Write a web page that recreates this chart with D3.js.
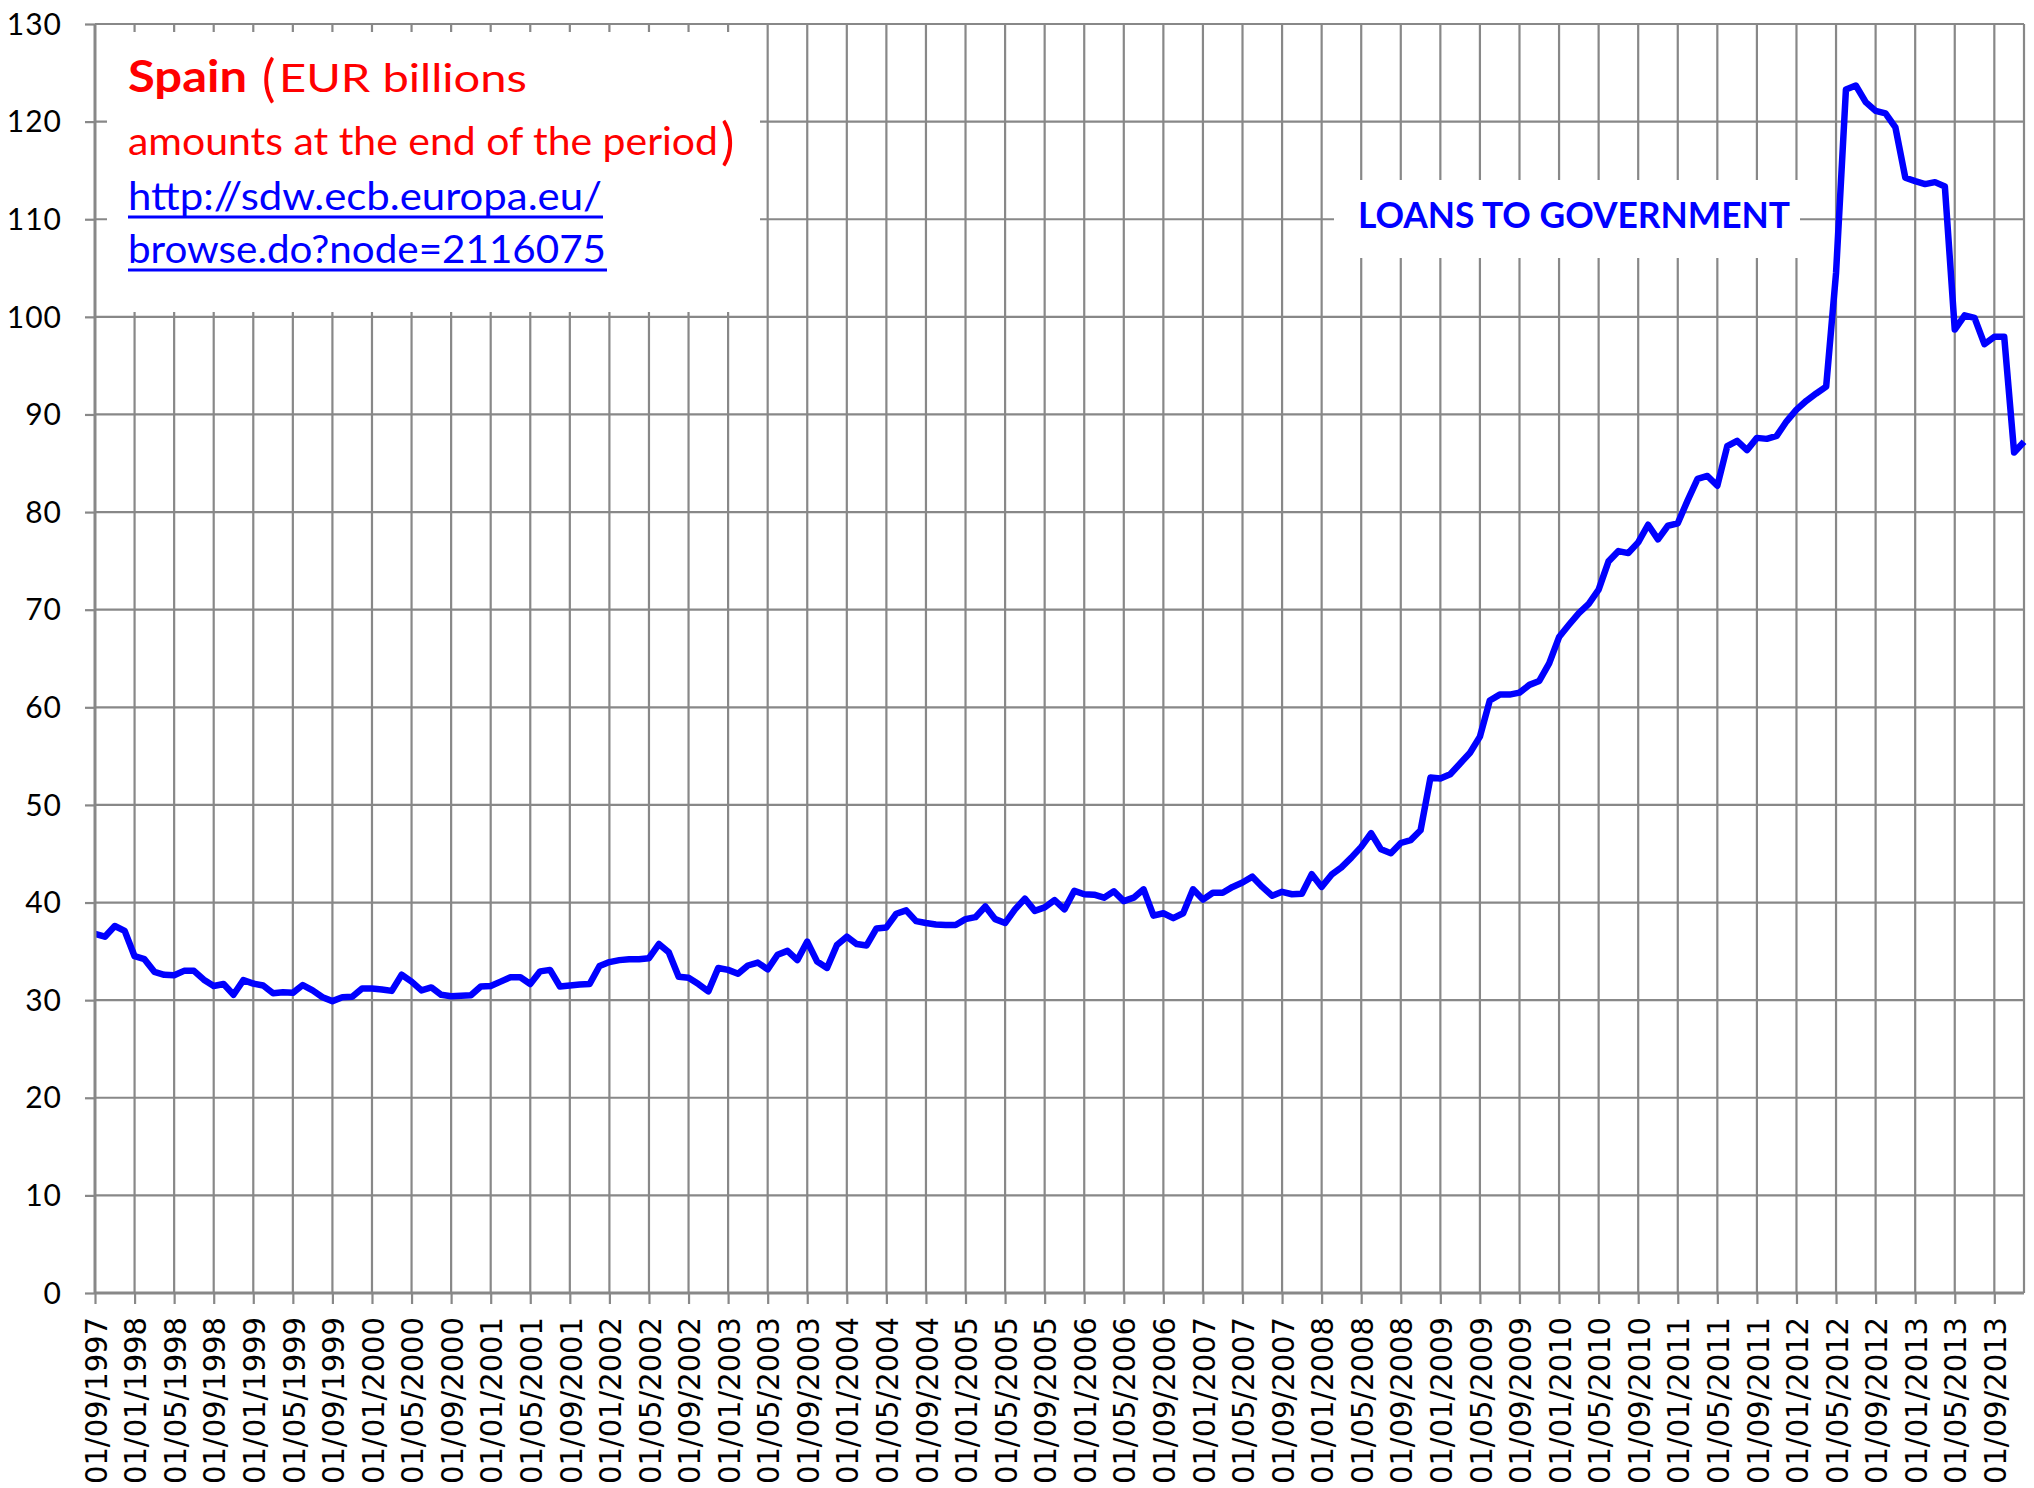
<!DOCTYPE html>
<html>
<head>
<meta charset="utf-8">
<script src="https://cdn.jsdelivr.net/npm/d3@7"></script>
<style>
  html, body { margin: 0; padding: 0; background: #ffffff; }
  svg { display: block; }
</style>
</head>
<body>
<svg id="chart" width="2034" height="1488"></svg>
<script>
// ---------------- data ----------------
// Loans to government, Spain, EUR billions, monthly, Sep 1997 .. Dec 2013
const loansToGovernment = [
  36.8, 36.5, 37.6, 37.1, 34.5, 34.2, 32.9, 32.6, 32.55, 33.0,
  33.0, 32.1, 31.45, 31.65, 30.55, 32.05, 31.7, 31.5, 30.7, 30.8,
  30.75, 31.55, 31.0, 30.3, 29.9, 30.3, 30.35, 31.2, 31.2, 31.1,
  30.95, 32.6, 31.9, 31.0, 31.3, 30.55, 30.4, 30.45, 30.5, 31.4,
  31.45, 31.9, 32.35, 32.35, 31.65, 32.95, 33.1, 31.4, 31.5, 31.6,
  31.65, 33.5, 33.9, 34.1, 34.2, 34.2, 34.3, 35.75, 34.9, 32.4,
  32.3, 31.65, 30.9, 33.3, 33.1, 32.7, 33.55, 33.85, 33.15, 34.65,
  35.05, 34.1, 36.0, 33.95, 33.3, 35.65, 36.5, 35.75, 35.6, 37.35,
  37.45, 38.85, 39.2, 38.1, 37.9, 37.75, 37.7, 37.7, 38.3, 38.5,
  39.6, 38.3, 37.9, 39.3, 40.4, 39.15, 39.5, 40.25, 39.3, 41.2,
  40.85, 40.8, 40.5, 41.15, 40.15, 40.5, 41.35, 38.65, 38.9, 38.4,
  38.9, 41.35, 40.3, 41.0, 41.0, 41.6, 42.05, 42.65, 41.6, 40.7,
  41.1, 40.85, 40.9, 42.9, 41.6, 42.85, 43.6, 44.6, 45.7, 47.1,
  45.45, 45.05, 46.1, 46.4, 47.4, 52.8, 52.7, 53.15, 54.25, 55.35,
  57.0, 60.7, 61.3, 61.3, 61.5, 62.3, 62.7, 64.5, 67.2, 68.45,
  69.65, 70.6, 72.05, 74.95, 76.0, 75.8, 76.9, 78.7, 77.2, 78.6,
  78.85, 81.2, 83.4, 83.7, 82.7, 86.75, 87.3, 86.35, 87.6, 87.5,
  87.8, 89.3, 90.5, 91.4, 92.15, 92.85, 104.5, 123.3, 123.7, 122.0,
  121.1, 120.85, 119.4, 114.25, 113.9, 113.6, 113.8, 113.35, 98.7, 100.15,
  99.9, 97.2, 97.95, 97.95, 86.1, 87.2
];

// monthly categories (first day of each month), Sep 1997 .. Dec 2013
const categories = d3.timeMonth
  .range(new Date(1997, 8, 1), new Date(2014, 0, 1))
  .map(d3.timeFormat("%Y-%m"));

// x tick labels (every four months)
const xTickLabels = [
  "01/09/1997", "01/01/1998", "01/05/1998", "01/09/1998",
  "01/01/1999", "01/05/1999", "01/09/1999",
  "01/01/2000", "01/05/2000", "01/09/2000",
  "01/01/2001", "01/05/2001", "01/09/2001",
  "01/01/2002", "01/05/2002", "01/09/2002",
  "01/01/2003", "01/05/2003", "01/09/2003",
  "01/01/2004", "01/05/2004", "01/09/2004",
  "01/01/2005", "01/05/2005", "01/09/2005",
  "01/01/2006", "01/05/2006", "01/09/2006",
  "01/01/2007", "01/05/2007", "01/09/2007",
  "01/01/2008", "01/05/2008", "01/09/2008",
  "01/01/2009", "01/05/2009", "01/09/2009",
  "01/01/2010", "01/05/2010", "01/09/2010",
  "01/01/2011", "01/05/2011", "01/09/2011",
  "01/01/2012", "01/05/2012", "01/09/2012",
  "01/01/2013", "01/05/2013", "01/09/2013"
];

// y tick values
const yTickValues = [0, 10, 20, 30, 40, 50, 60, 70, 80, 90, 100, 110, 120, 130];

const titleCountry = "Spain";
const titleUnit = "(EUR billions";
const titleLine2 = "amounts at the end of the period";
const linkLine1 = "http://sdw.ecb.europa.eu/";
const linkLine2 = "browse.do?node=2116075";
const seriesLabel = "LOANS TO GOVERNMENT";

// ---------------- layout ----------------
const plotLeft = 95, plotRight = 2024, plotTop = 24, plotBottom = 1293;
const gridColor = "#888888";
const lineColor = "#0000FF";

const svg = d3.select("#chart");
svg.append("rect").attr("width", 2034).attr("height", 1488).attr("fill", "#fff");

const x = d3.scalePoint().domain(categories).range([plotLeft, plotRight]).padding(0);
const y = d3.scaleLinear().domain([0, 130]).range([plotBottom, plotTop]);

const labelToCat = s => s.slice(6, 10) + "-" + s.slice(3, 5);
const tickCats = xTickLabels.map(labelToCat);
const catToLabel = new Map(xTickLabels.map(s => [labelToCat(s), s]));

// ---------------- gridlines ----------------
const grid = svg.append("g").attr("class", "grid");
grid.selectAll("line.h")
  .data(yTickValues.filter(v => v > 0))
  .join("line")
  .attr("class", "h")
  .attr("x1", plotLeft).attr("x2", plotRight)
  .attr("y1", d => y(d)).attr("y2", d => y(d))
  .attr("stroke", gridColor).attr("stroke-width", 2.2);

grid.selectAll("line.v")
  .data(tickCats.slice(1).concat([categories[categories.length - 1]]))
  .join("line")
  .attr("class", "v")
  .attr("x1", d => x(d)).attr("x2", d => x(d))
  .attr("y1", y(130)).attr("y2", plotBottom)
  .attr("stroke", gridColor).attr("stroke-width", 2.2);

// ---------------- series line ----------------
const lineGen = d3.line()
  .x((d, i) => x(categories[i]))
  .y(d => y(d));

svg.append("path")
  .datum(loansToGovernment)
  .attr("d", lineGen)
  .attr("fill", "none")
  .attr("stroke", lineColor)
  .attr("stroke-width", 6.5)
  .attr("stroke-linejoin", "round")
  .attr("stroke-linecap", "butt");

// ---------------- axes ----------------
const yAxis = svg.append("g")
  .attr("transform", `translate(${plotLeft},0)`)
  .call(d3.axisLeft(y).tickValues(yTickValues).tickSize(10).tickPadding(23).tickFormat(d3.format("d")));
yAxis.select(".domain").attr("stroke", gridColor).attr("stroke-width", 3)
  .attr("d", `M0,${plotTop}V${plotBottom}`);
yAxis.selectAll(".tick line").attr("stroke", gridColor).attr("stroke-width", 2.2);
yAxis.selectAll(".tick text")
  .attr("fill", "#000")
  .attr("dy", "0.34em")
  .style("font-family", "Lato, 'Open Sans', sans-serif")
  .style("font-size", "30px")
  .style("letter-spacing", "1px");

const xAxis = svg.append("g")
  .attr("transform", `translate(0,${plotBottom})`)
  .call(d3.axisBottom(x).tickValues(tickCats).tickSize(11).tickFormat(d => catToLabel.get(d)));
xAxis.select(".domain").attr("stroke", gridColor).attr("stroke-width", 3)
  .attr("d", `M${plotLeft},0H${plotRight}`);
xAxis.selectAll(".tick line").attr("stroke", gridColor).attr("stroke-width", 2.2);
xAxis.selectAll(".tick text")
  .attr("fill", "#000")
  .attr("transform", "rotate(-90)")
  .attr("text-anchor", "end")
  .attr("x", -24)
  .attr("y", 0)
  .attr("dy", "0.36em")
  .attr("textLength", 167)
  .attr("lengthAdjust", "spacingAndGlyphs")
  .style("font-family", "'DejaVu Sans', sans-serif")
  .style("font-size", "31px");

// ---------------- text boxes ----------------
svg.append("rect").attr("x", 107).attr("y", 32).attr("width", 653).attr("height", 280).attr("fill", "#fff");

const t1 = svg.append("text")
  .attr("x", 128).attr("y", 92)
  .attr("fill", "#FF0000")
  .style("font-family", "Lato, 'Open Sans', sans-serif");
t1.append("tspan").text(titleCountry).style("font-weight", "bold").style("font-size", "44px")
  .attr("textLength", 119).attr("lengthAdjust", "spacingAndGlyphs");
t1.append("tspan").attr("x", 262).text(titleUnit.slice(0, 1)).style("font-size", "50px").attr("dy", 4);
t1.append("tspan").attr("x", 279).attr("dy", -4).text(titleUnit.slice(1)).style("font-size", "39px")
  .attr("textLength", 248).attr("lengthAdjust", "spacingAndGlyphs");

const t2 = svg.append("text")
  .attr("x", 128).attr("y", 155)
  .attr("fill", "#FF0000")
  .style("font-family", "Lato, 'Open Sans', sans-serif");
t2.append("tspan").text(titleLine2).style("font-size", "39px")
  .attr("textLength", 590).attr("lengthAdjust", "spacingAndGlyphs");
t2.append("tspan").attr("x", 721).attr("dy", 4).text(")").style("font-size", "50px");

const linkFont = "Lato, 'Open Sans', sans-serif";
svg.append("text").attr("x", 128).attr("y", 210).attr("fill", "#0000FF")
  .style("font-family", linkFont).style("font-size", "39px")
  .attr("textLength", 474).attr("lengthAdjust", "spacingAndGlyphs")
  .text(linkLine1);
svg.append("line").attr("x1", 128).attr("x2", 603).attr("y1", 217).attr("y2", 217)
  .attr("stroke", "#0000FF").attr("stroke-width", 3);
svg.append("text").attr("x", 128).attr("y", 263).attr("fill", "#0000FF")
  .style("font-family", linkFont).style("font-size", "39px")
  .attr("textLength", 478).attr("lengthAdjust", "spacingAndGlyphs")
  .text(linkLine2);
svg.append("line").attr("x1", 128).attr("x2", 607).attr("y1", 270).attr("y2", 270)
  .attr("stroke", "#0000FF").attr("stroke-width", 3);

svg.append("rect").attr("x", 1334).attr("y", 180).attr("width", 466).attr("height", 78).attr("fill", "#fff");
svg.append("text").attr("x", 1358).attr("y", 228).attr("fill", "#0000FF")
  .style("font-family", "Lato, 'Open Sans', sans-serif").style("font-weight", "bold").style("font-size", "36px")
  .attr("textLength", 432).attr("lengthAdjust", "spacingAndGlyphs")
  .text(seriesLabel);
</script>
</body>
</html>
